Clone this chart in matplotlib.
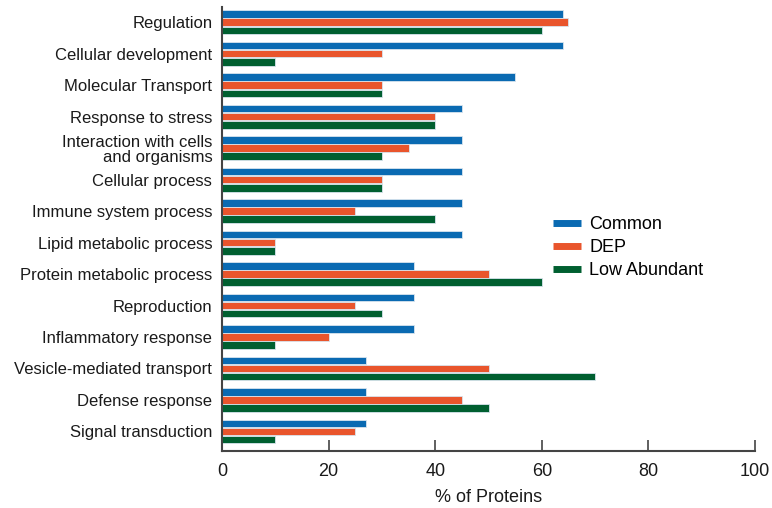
import matplotlib
matplotlib.use("Agg")
import matplotlib.pyplot as plt
import numpy as np
from matplotlib.lines import Line2D

plt.rcParams['font.family'] = ['Liberation Sans', 'DejaVu Sans']

categories = ["Regulation", "Cellular development", "Molecular Transport", "Response to stress",
              "Interaction with cells\nand organisms", "Cellular process", "Immune system process",
              "Lipid metabolic process", "Protein metabolic process", "Reproduction",
              "Inflammatory response", "Vesicle-mediated transport", "Defense response",
              "Signal transduction"]
common = [64, 64, 55, 45, 45, 45, 45, 45, 36, 36, 36, 27, 27, 27]
dep = [65, 30, 30, 40, 35, 30, 25, 10, 50, 25, 20, 50, 45, 25]
low_abundant = [60, 10, 30, 40, 30, 30, 40, 10, 60, 30, 10, 70, 50, 10]
series_names = ["Common", "DEP", "Low Abundant"]
colors = ["#0a6ab2", "#e9552c", "#005f30"]
xticks = [0, 20, 40, 60, 80, 100]

fig = plt.figure(figsize=(7.72, 5.08), dpi=100)
ax = fig.add_axes([222/772, 1-451/508, 533/772, 444/508])

y = np.arange(len(categories))
h = 0.24
off = 0.26
for i, (vals, name, c) in enumerate(zip([common, dep, low_abundant], series_names, colors)):
    ax.barh(y + (i-1)*off, vals, height=h, color=c, edgecolor="#d8e4ee", linewidth=0.6, label=name)

ax.set_ylim(13.62, -0.48)
ax.set_xlim(0, 100)
ax.set_yticks(y)
ax.set_yticklabels(categories, fontsize=12.0, color="#1a1a1a", linespacing=1.0)
ax.tick_params(axis='y', length=0, pad=7)
ax.set_xticks(xticks)
ax.set_xticklabels([str(t) for t in xticks], fontsize=13, color="#1a1a1a")
ax.tick_params(axis='x', direction='in', length=8, width=1.2, color="#444444", pad=9)
for s in ['top', 'right']:
    ax.spines[s].set_visible(False)
for s in ['left', 'bottom']:
    ax.spines[s].set_linewidth(1.5)
    ax.spines[s].set_color("#444444")
ax.set_xlabel("% of Proteins", fontsize=13, color="#1a1a1a", labelpad=6)

handles = [Line2D([0], [0], color=c, lw=5, solid_capstyle='butt') for c in colors]
ax.legend(handles, series_names, loc='center left', bbox_to_anchor=(0.591, 0.458), frameon=False,
          fontsize=13, handlelength=1.55, handletextpad=0.45, labelspacing=0.33)

fig.savefig("out.png", dpi=100)
